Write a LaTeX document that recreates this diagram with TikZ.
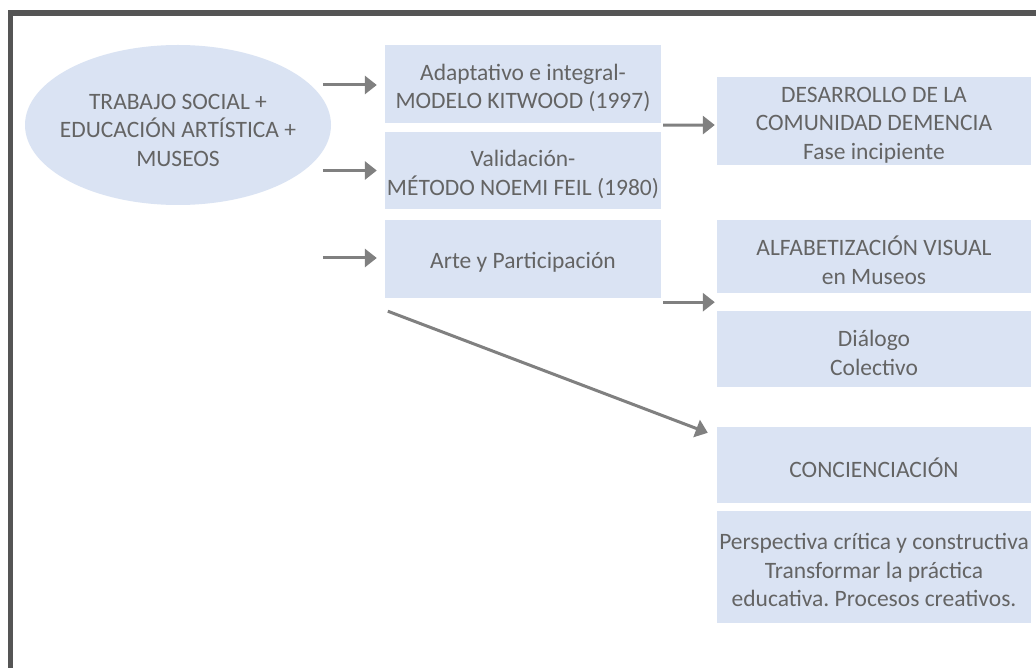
\documentclass[tikz,border=0pt]{standalone}
\usepackage{fontspec}
\setmainfont{Carlito}
\frenchspacing
\usetikzlibrary{arrows.meta,calc}
\definecolor{boxfill}{HTML}{DAE3F3}
\definecolor{inktext}{HTML}{646464}
\definecolor{arrowgray}{HTML}{808080}
\definecolor{framegray}{HTML}{555555}
\tikzset{
  every node/.style={font=\fontsize{23.5}{28.5}\selectfont, text=inktext, align=center, inner sep=0pt},
  panel/.style 2 args={fill=boxfill, minimum width=#1pt, minimum height=#2pt},
  link/.style={draw=arrowgray, line width=3pt, -{Triangle[length=12pt,width=18pt]}}
}
\begin{document}
\begin{tikzpicture}[x=1pt,y=-1pt]
\useasboundingbox (0,0) rectangle (1036,668);
\fill[white] (0,0) rectangle (1036,668);

% outer frame (left and top edges)
\draw[framegray, line width=5.5pt] (10.5,668) -- (10.5,13) -- (1036,13);

% source ellipse
\fill[boxfill] (178,125) ellipse [x radius=153, y radius=80];
\node (src) at (178,130) {TRABAJO SOCIAL +\\EDUCACIÓN ARTÍSTICA +\\MUSEOS};

% middle column panels
\node[panel={276}{78}] (b1) at (523,84) {};
\node[panel={276}{77}] (b2) at (523,170.5) {};
\node[panel={276}{78}] (b3) at (523,259) {};

% right column panels
\node[panel={314}{88}] (r1) at (874,121) {};
\node[panel={314}{73}] (r2) at (874,256.5) {};
\node[panel={314}{76}] (r3) at (874,349) {};
\node[panel={314}{76}] (r4) at (874,465) {};
\node[panel={314}{112}] (r5) at (874,567) {};

% panel texts, set a little below the panel centres
\node (b1t) at ($(b1)+(0,4)$) {Adaptativo e integral-\\MODELO KITWOOD (1997)};
\node (b2t) at ($(b2)+(0,4)$) {Validación-\\MÉTODO NOEMI FEIL (1980)};
\node (b3t) at ($(b3)+(0,3)$) {Arte y Participación};
\node (r1t) at ($(r1)+(0,4)$) {DESARROLLO DE LA\\COMUNIDAD DEMENCIA\\Fase incipiente};
\node (r2t) at ($(r2)+(0,4)$) {ALFABETIZACIÓN VISUAL\\en Museos};
\node (r3t) at ($(r3)+(0,4)$) {Diálogo\\Colectivo};
\node (r4t) at ($(r4)+(0,3)$) {CONCIENCIACIÓN};
\node (r5t) at ($(r5)+(0,3)$) {Perspectiva crítica y constructiva\\Transformar la práctica\\educativa. Procesos creativos.};

% arrows into the middle column
\draw[link] ($(b1.west)+(-62,1)$) -- ($(b1.west)+(-8,1)$);
\draw[link] ($(b2.west)+(-62,0)$) -- ($(b2.west)+(-8,0)$);
\draw[link] ($(b3.west)+(-62,-1)$) -- ($(b3.west)+(-8,-1)$);

% arrows into the right column
\draw[link] ($(b1.south east)+(2,2)$) -- ($(r1.west)+(-2,4)$);
\draw[link] ($(b3.south east)+(2,4)$) -- ($(r2.south west)+(-2,9)$);
\draw[link] ($(b3.south west)+(3,13)$) -- ($(r4.north west)+(-9,6)$);
\end{tikzpicture}
\end{document}
